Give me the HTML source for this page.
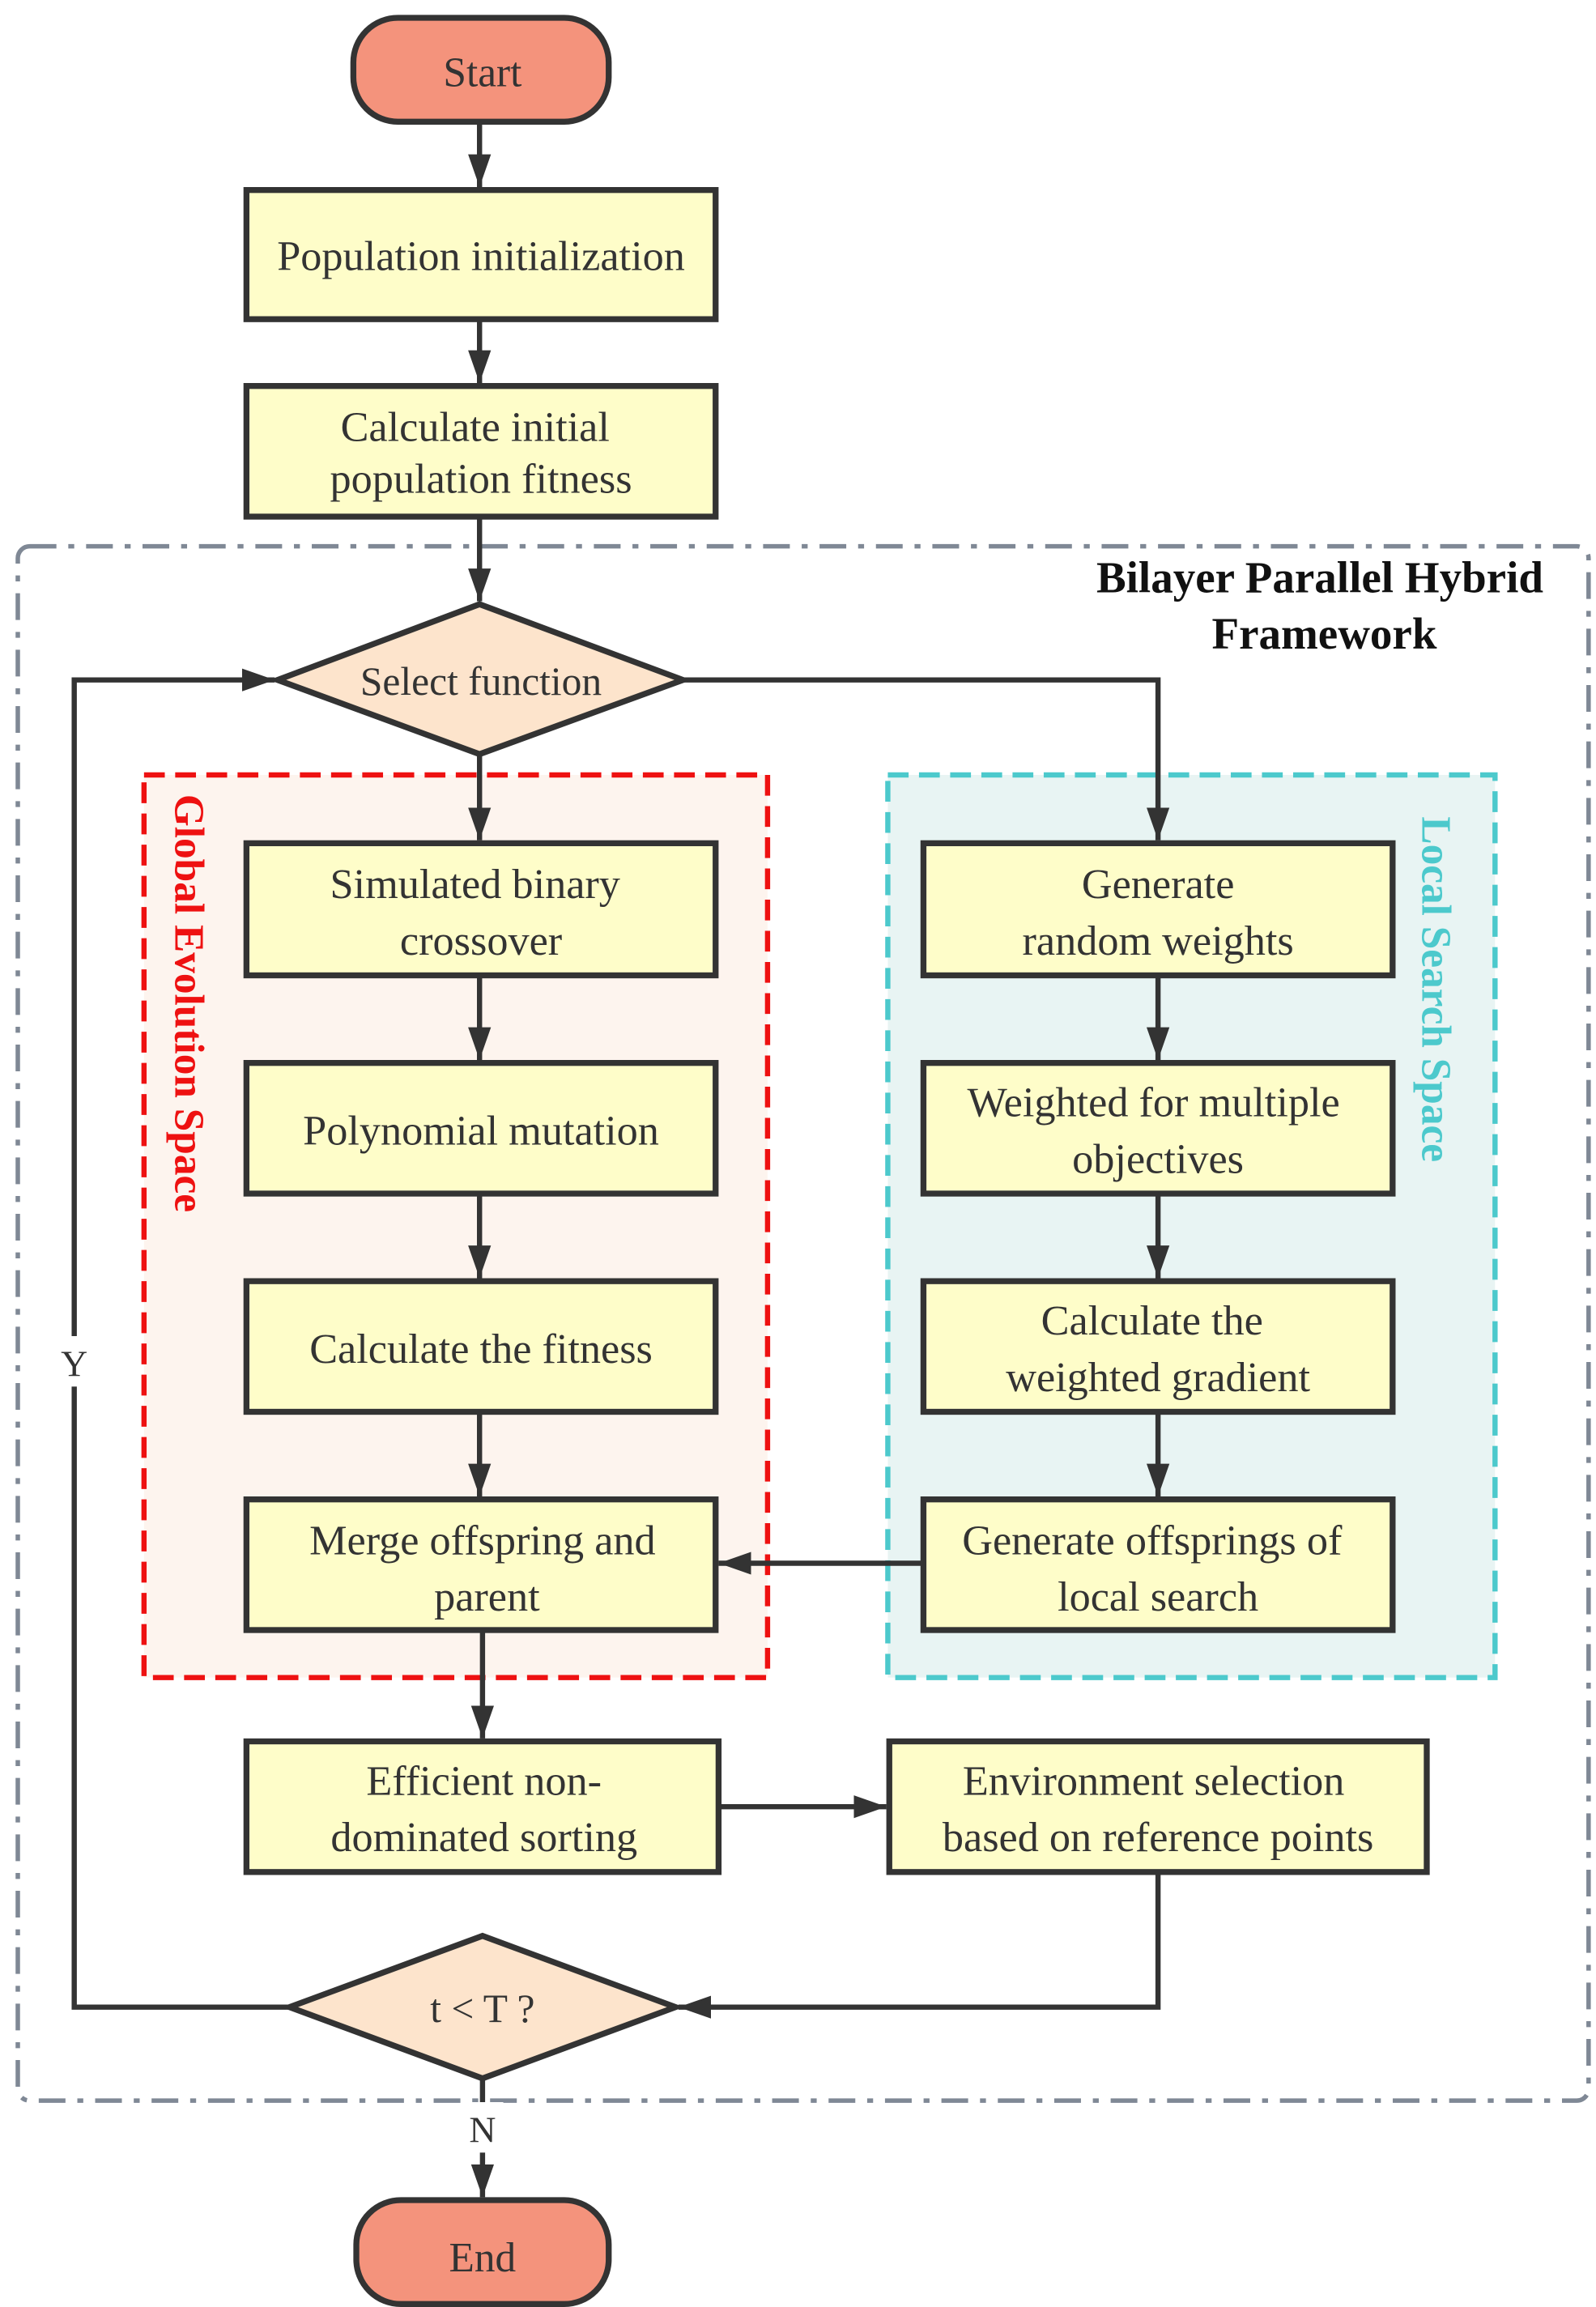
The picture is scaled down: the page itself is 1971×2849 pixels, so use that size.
<!DOCTYPE html>
<html><head><meta charset="utf-8"><style>
html,body{margin:0;padding:0;background:#fff;width:1971px;height:2849px;overflow:hidden}
svg{display:block}
text{font-family:"Liberation Serif",serif;fill:#333}
</style></head><body>
<svg width="1971" height="2849" viewBox="0 0 1075 1554" preserveAspectRatio="none" xmlns="http://www.w3.org/2000/svg">
<defs>
<marker id="b" viewBox="0 0 10 10" refX="10" refY="5" markerWidth="22" markerHeight="22" orient="auto" markerUnits="userSpaceOnUse"><path d="M0,1.5 L10,5 L0,8.5 z" fill="#333"/></marker>
</defs>
<rect x="12" y="368" width="1058" height="1047" rx="8" fill="none" stroke="#7f8895" stroke-width="3" stroke-dasharray="18,8,4,8"/>
<text x="889" y="399" text-anchor="middle" font-size="30" font-weight="bold" style="fill:#111">Bilayer Parallel Hybrid</text>
<text x="892" y="437" text-anchor="middle" font-size="30" font-weight="bold" style="fill:#111">Framework</text>
<rect x="97" y="522" width="420" height="608" fill="#FDF4EE" stroke="#EE1111" stroke-width="3.5" stroke-dasharray="14,7"/>
<rect x="598" y="522" width="409" height="608" fill="#E8F4F3" stroke="#4CC9CC" stroke-width="3.5" stroke-dasharray="14,7"/>
<text transform="translate(118,535) rotate(90)" font-size="28" font-weight="bold" style="fill:#EE1111">Global Evolution Space</text>
<text transform="translate(958,550) rotate(90)" font-size="28" font-weight="bold" style="fill:#4CC9CC">Local Search Space</text>
<g stroke="#333" stroke-width="3.5" fill="none">
<line x1="323" y1="82" x2="323" y2="126" marker-end="url(#b)"/>
<line x1="323" y1="215" x2="323" y2="258" marker-end="url(#b)"/>
<line x1="323" y1="348" x2="323" y2="405" marker-end="url(#b)"/>
<line x1="323" y1="508" x2="323" y2="566" marker-end="url(#b)"/>
<polyline points="460,458 780,458 780,566" marker-end="url(#b)"/>
<line x1="323" y1="657" x2="323" y2="714" marker-end="url(#b)"/>
<line x1="323" y1="804" x2="323" y2="861" marker-end="url(#b)"/>
<line x1="323" y1="951" x2="323" y2="1008" marker-end="url(#b)"/>
<line x1="780" y1="657" x2="780" y2="714" marker-end="url(#b)"/>
<line x1="780" y1="804" x2="780" y2="861" marker-end="url(#b)"/>
<line x1="780" y1="951" x2="780" y2="1008" marker-end="url(#b)"/>
<line x1="622" y1="1053" x2="484" y2="1053" marker-end="url(#b)"/>
<line x1="325" y1="1098" x2="325" y2="1171" marker-end="url(#b)"/>
<line x1="484" y1="1217" x2="597" y2="1217" marker-end="url(#b)"/>
<polyline points="780,1261 780,1352 457,1352" marker-end="url(#b)"/>
<polyline points="195,1352 50,1352 50,458 185,458" marker-end="url(#b)"/>
<line x1="325" y1="1400" x2="325" y2="1480" marker-end="url(#b)"/>
</g>
<rect x="37" y="900" width="26" height="34" fill="#fff"/>
<text x="50" y="927" text-anchor="middle" font-size="25">Y</text>
<rect x="311" y="1416" width="28" height="34" fill="#fff"/>
<text x="325" y="1443" text-anchor="middle" font-size="25">N</text>
<rect x="238" y="12" width="172" height="70" rx="30" fill="#F4937C" stroke="#333" stroke-width="4"/>
<text x="325" y="58" text-anchor="middle" font-size="28">Start</text>
<rect x="240" y="1482" width="170" height="70" rx="30" fill="#F4937C" stroke="#333" stroke-width="4"/>
<text x="325" y="1530" text-anchor="middle" font-size="28">End</text>
<polygon points="187,458 323,407 460,458 323,508" fill="#FDE4CC" stroke="#333" stroke-width="4"/>
<text x="324" y="468" text-anchor="middle" font-size="27">Select function</text>
<polygon points="195,1352 325,1304 455,1352 325,1400" fill="#FDE4CC" stroke="#333" stroke-width="4"/>
<text x="325" y="1362" text-anchor="middle" font-size="27">t &lt; T ?</text>
<g fill="#FEFDC9" stroke="#333" stroke-width="4">
<rect x="166" y="128" width="316" height="87"/>
<rect x="166" y="260" width="316" height="88"/>
<rect x="166" y="568" width="316" height="89"/>
<rect x="166" y="716" width="316" height="88"/>
<rect x="166" y="863" width="316" height="88"/>
<rect x="166" y="1010" width="316" height="88"/>
<rect x="622" y="568" width="316" height="89"/>
<rect x="622" y="716" width="316" height="88"/>
<rect x="622" y="863" width="316" height="88"/>
<rect x="622" y="1010" width="316" height="88"/>
<rect x="166" y="1173" width="318" height="88"/>
<rect x="599" y="1173" width="362" height="88"/>
</g>
<g font-size="28.5" text-anchor="middle">
<text x="324" y="182">Population initialization</text>
<text x="320" y="297">Calculate initial</text>
<text x="324" y="332">population fitness</text>
<text x="320" y="605">Simulated binary</text>
<text x="324" y="643">crossover</text>
<text x="324" y="771">Polynomial mutation</text>
<text x="324" y="918">Calculate the fitness</text>
<text x="325" y="1047">Merge offspring and</text>
<text x="328" y="1085">parent</text>
<text x="780" y="605">Generate</text>
<text x="780" y="643">random weights</text>
<text x="777" y="752">Weighted for multiple</text>
<text x="780" y="790">objectives</text>
<text x="776" y="899">Calculate the</text>
<text x="780" y="937">weighted gradient</text>
<text x="776" y="1047">Generate offsprings of</text>
<text x="780" y="1085">local search</text>
<text x="326" y="1209">Efficient non-</text>
<text x="326" y="1247">dominated sorting</text>
<text x="777" y="1209">Environment selection</text>
<text x="780" y="1247">based on reference points</text>
</g>
</svg>
</body></html>
